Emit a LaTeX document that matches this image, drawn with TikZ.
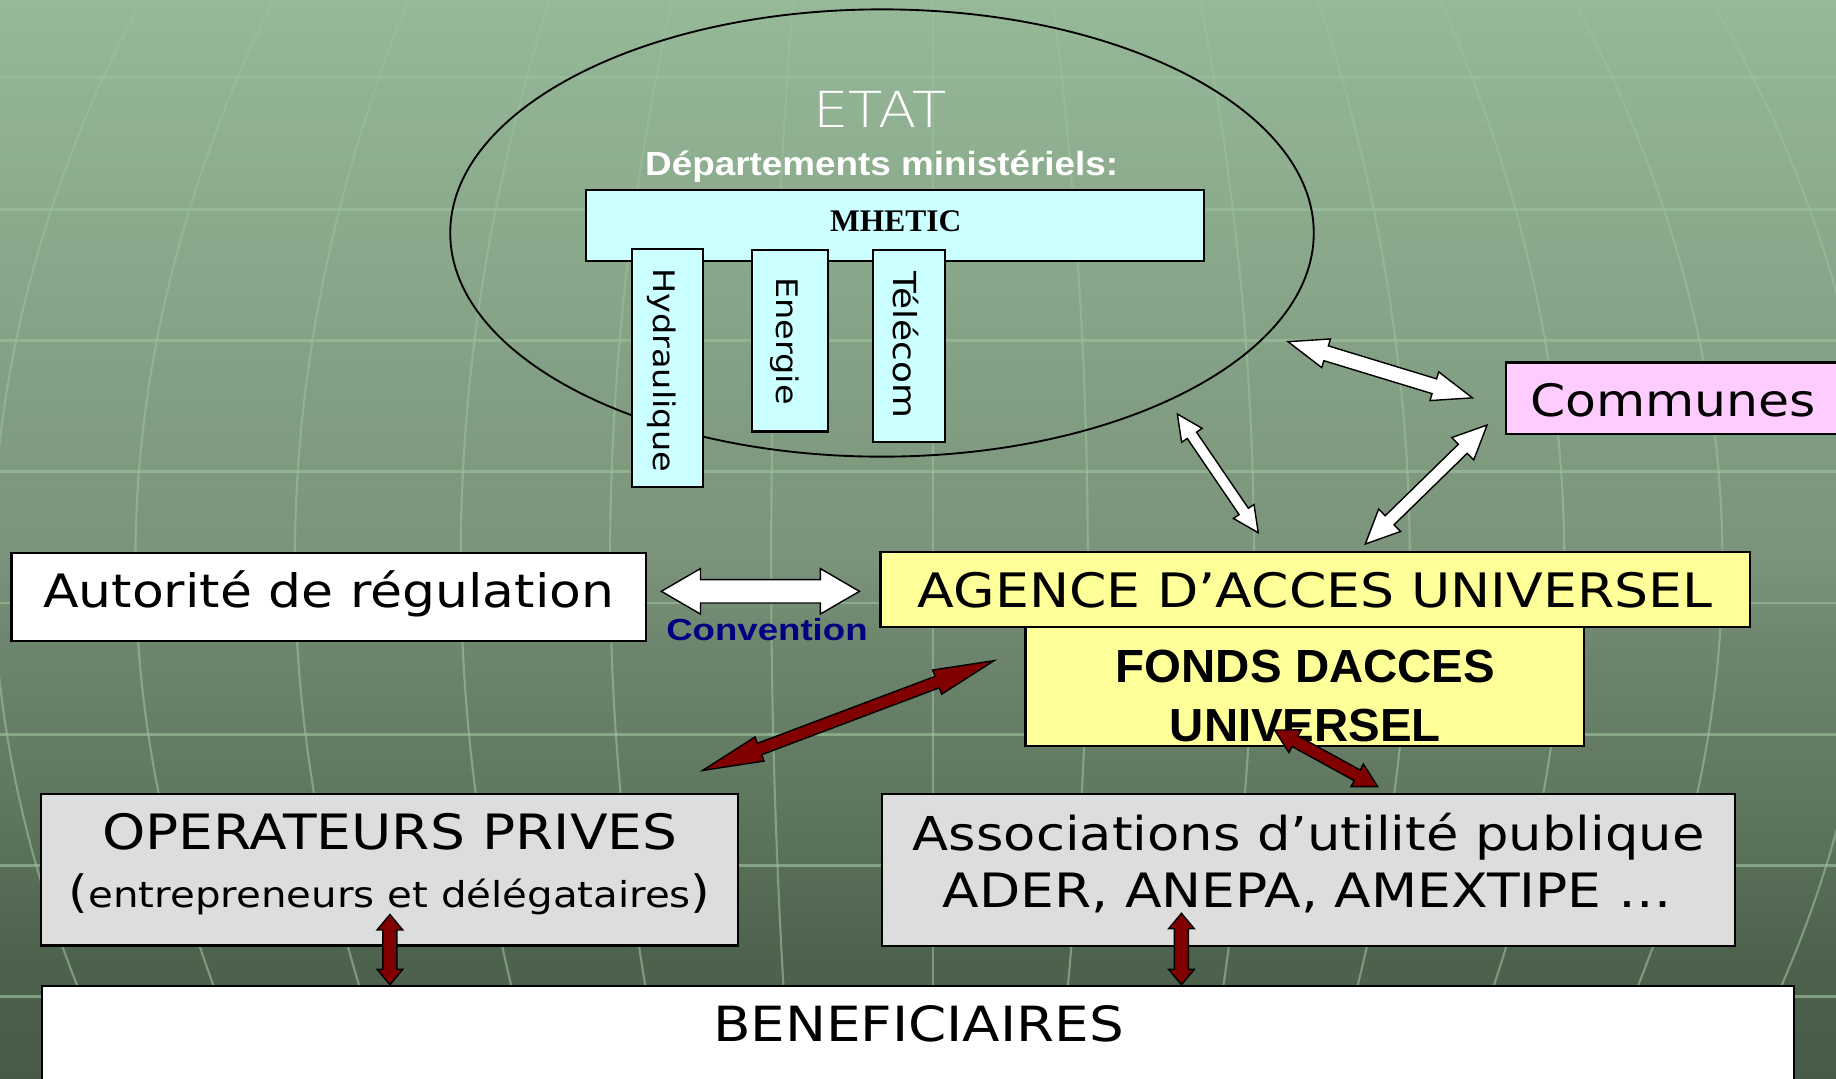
\documentclass[tikz,border=0pt]{standalone}
\usepackage{graphicx}
\usepackage{fontspec}
\setmainfont{DejaVu Sans}[FakeStretch=1.13]
\newfontfamily\thinf{DejaVu Sans ExtraLight}[FakeStretch=1.13]
\newfontfamily\bsA{Liberation Sans}[FakeStretch=1.02]
\newfontfamily\bsB{Liberation Sans}[FakeStretch=1.1]
\newfontfamily\bsC{Liberation Sans}[FakeStretch=1.2]
\newfontfamily\serifB{Liberation Serif}
\usetikzlibrary{shapes.geometric}
\definecolor{bgA}{HTML}{485A48}
\definecolor{bgB}{HTML}{4E634E}
\definecolor{bgC}{HTML}{5F775F}
\definecolor{bgD}{HTML}{6D866D}
\definecolor{bgE}{HTML}{7A937A}
\definecolor{bgF}{HTML}{96B998}
\definecolor{gridc}{HTML}{9CC09C}
\definecolor{cyanbox}{HTML}{CCFFFF}
\definecolor{pinkbox}{HTML}{FFCCFF}
\definecolor{yellowbox}{HTML}{FFFF99}
\definecolor{graybox}{HTML}{DDDDDD}
\definecolor{navy}{HTML}{000080}
\definecolor{maroon}{HTML}{800000}
\pgfdeclareverticalshading{bgshade}{100bp}{color(0bp)=(bgA); color(25bp)=(bgA); color(31bp)=(bgB); color(37.9bp)=(bgC); color(45.3bp)=(bgD); color(49.05bp)=(bgE); color(75bp)=(bgF); color(100bp)=(bgF)}
\newcommand\fitw[2]{\resizebox{#1}{!}{#2}}
\newcommand\bigpar[1]{{\fontsize{12.5}{12}\selectfont #1}}
% block double arrow: #1 fill, #2 from, #3 to, #4 shaft half-width, #5 head half-width, #6 head length (pt)
\newcommand\blockarrow[6]{%
  \path (#2); \pgfgetlastxy{\bax}{\bay}%
  \path (#3); \pgfgetlastxy{\bbx}{\bby}%
  \pgfmathsetmacro\bang{atan2(\bby-\bay,\bbx-\bax)}%
  \pgfmathsetmacro\blen{veclen(\bbx-\bax,\bby-\bay)}%
  \begin{scope}[shift={(#2)},rotate=\bang]
    \filldraw[fill=#1, draw=black, line width=0.6pt, line join=miter]
      (0pt,0pt) -- (#6pt,#5pt) -- (#6pt,#4pt) -- ({(\blen-#6)*1pt},#4pt) -- ({(\blen-#6)*1pt},#5pt)
      -- (\blen pt,0pt) -- ({(\blen-#6)*1pt},-#5pt) -- ({(\blen-#6)*1pt},-#4pt) -- (#6pt,-#4pt) -- (#6pt,-#5pt) -- cycle;
  \end{scope}}
\tikzset{
  box/.style={draw=black, line width=0.9pt, inner sep=0pt, outer sep=0pt},
  lbl/.style={anchor=base, inner sep=0pt, outer sep=0pt},
  gridH/.style={draw=gridc, opacity=0.65, line width=1.2pt},
  gridV/.style={draw=gridc, opacity=0.6, line width=0.9pt},
}
\begin{document}
\begin{tikzpicture}[x=0.5pt,y=-0.5pt]
\useasboundingbox (0,0) rectangle (1568,921);
\clip (0,0) rectangle (1568,921);
% background
\shade[shading=bgshade] (0,0) rectangle (1568,921);
\foreach \yy in {66,179,291,403,515,627,739,851}
  \draw[gridH] (0,\yy) -- (1568,\yy);
\foreach \v/\K in {-6/5.5, 115.6/5.1, 251.8/4.2, 393.4/3.3, 521/2.3, 658.6/0.8, 797/0, 929/-1.3, 1071/-2.0, 1204/-3.4, 1336/-4.6, 1471/-5.5, 1600/-6.0}
  \draw[gridV] plot[domain=0:921, samples=25, smooth] ({\v+(\K)*((\x-480)/100)*((\x-480)/100)}, \x);

% ETAT ellipse and ministries
\node[draw=black, line width=0.8pt, ellipse, minimum width=368.75pt, minimum height=191pt, inner sep=0pt] (etat) at (753.25,199) {};
\node[box, fill=cyanbox, minimum width=263.75pt, minimum height=30.5pt] (mhetic) at (764.25,192.5) {};
\node[box, fill=cyanbox, minimum width=30.55pt, minimum height=101.5pt] (hyd) at (570,314.5) {};
\node[box, fill=cyanbox, minimum width=32.5pt, minimum height=77.5pt] (ene) at (674.75,291) {};
\node[box, fill=cyanbox, minimum width=30.65pt, minimum height=82pt] (tel) at (776.45,295.5) {};
\node[lbl, text=white] (tEtat) at (751.6,109) {\fitw{57pt}{\thinf ETAT}};
\node[lbl, text=white] (tDep) at (753,150) {\fitw{202pt}{\bsB\bfseries Départements ministériels:}};
\node[lbl] (tMhetic) at (765,197.3) {\fitw{56pt}{\serifB\bfseries MHETIC}};
\node[lbl, rotate=-90] (tHyd) at (558,316) {\fitw{87pt}{Hydraulique}};
\node[lbl, rotate=-90] (tEne) at (663,291.3) {\fitw{54.5pt}{Energie}};
\node[lbl, rotate=-90] (tTel) at (763,294.5) {\fitw{62.5pt}{Télécom}};

% Communes
\node[box, fill=pinkbox, minimum width=146.8pt, minimum height=30.5pt] (communes) at (1433.2,340.1) {};
\node[lbl] (tCom) at (1429,356) {\fitw{122pt}{Communes}};

% Autorite
\node[box, fill=white, minimum width=270.85pt, minimum height=37.9pt] (autorite) at (280.65,509.9) {};
\node[lbl] (tAut) at (280.7,519) {\fitw{243.9pt}{Autorité de régulation}};
\node[lbl, text=navy] (tConv) at (655,546.6) {\fitw{86pt}{\bsC\bfseries Convention}};

% Agence and Fonds
\node[box, fill=yellowbox, minimum width=238.35pt, minimum height=50.5pt] (fonds) at (1114.15,586.3) {};
\node[box, fill=yellowbox, minimum width=371.25pt, minimum height=32.05pt] (agence) at (1123.25,503.75) {};
\node[lbl] (tAg) at (1123.2,518.7) {\fitw{339.3pt}{AGENCE D’ACCES UNIVERSEL}};
\node[lbl] (tF1) at (1115,583) {\fitw{162pt}{\bsA\bfseries FONDS DACCES}};
\node[lbl] (tF2) at (1114.8,633) {\fitw{115.75pt}{\bsA\bfseries UNIVERSEL}};

% Operateurs, Associations, Beneficiaires
\node[box, fill=graybox, minimum width=297.35pt, minimum height=64.55pt] (oper) at (332.65,742.95) {};
\node[lbl] (tOp1) at (333,725.3) {\fitw{245.5pt}{OPERATEURS PRIVES}};
\node[lbl] (tOp2) at (332.9,775.2) {\fitw{274pt}{\bigpar{(}entrepreneurs et délégataires\bigpar{)}}};
\node[box, fill=graybox, minimum width=364.5pt, minimum height=65pt] (assoc) at (1117.5,743) {};
\node[lbl] (tAs1) at (1117.6,726) {\fitw{338pt}{Associations d’utilité publique}};
\node[lbl] (tAs2) at (1116.5,775.2) {\fitw{311.5pt}{ADER, ANEPA, AMEXTIPE …}};
\node[box, fill=white, minimum width=748pt, minimum height=49pt] (benef) at (784,891) {};
\node[lbl] (tBen) at (784.5,889.6) {\fitw{175.5pt}{BENEFICIAIRES}};

% arrows
\coordinate (w1a) at (564.8,505);   \coordinate (w1b) at (734,505);
\coordinate (w2a) at (1100,291.8);  \coordinate (w2b) at (1257.6,339.8);
\coordinate (w3a) at (1005.5,353.6);\coordinate (w3b) at (1074.6,455);
\coordinate (w4a) at (1270,363);    \coordinate (w4b) at (1166,464.6);
\coordinate (r1a) at (849,564.2);   \coordinate (r1b) at (600,658);
\coordinate (r2a) at (1088.5,623.4);\coordinate (r2b) at (1176.6,671.8);
\coordinate (r3a) at (333,781);     \coordinate (r3b) at (333,841);
\coordinate (r4a) at (1009,780);    \coordinate (r4b) at (1009,841);
\blockarrow{white}{w1a}{w1b}{5}{9.7}{16.7}
\blockarrow{white}{w2a}{w2b}{3.3}{6.4}{17}
\blockarrow{white}{w3a}{w3b}{2.4}{5.3}{11}
\blockarrow{white}{w4a}{w4b}{2.7}{6.7}{14.5}
\blockarrow{maroon}{r1a}{r1b}{2.6}{5.5}{26}
\blockarrow{maroon}{r2a}{r2b}{2.6}{5.5}{10}
\blockarrow{maroon}{r3a}{r3b}{3}{5.5}{6.6}
\blockarrow{maroon}{r4a}{r4b}{3}{5.5}{6.6}
\end{tikzpicture}
\end{document}
